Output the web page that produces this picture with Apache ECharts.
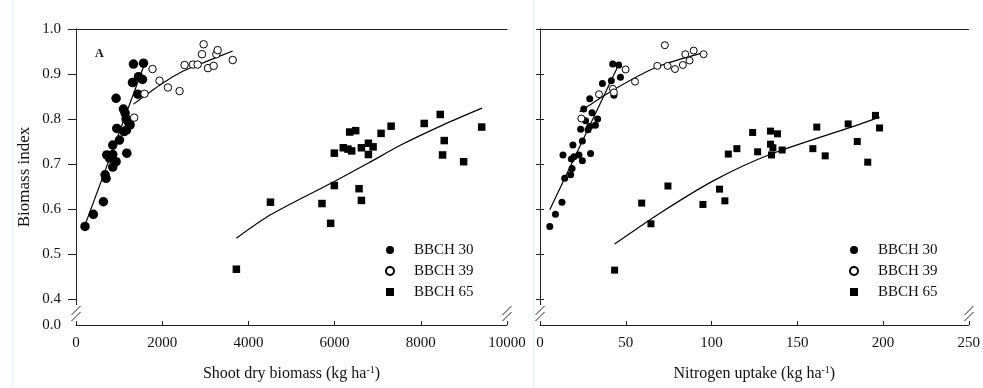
<!DOCTYPE html>
<html>
<head>
<meta charset="utf-8">
<script src="https://cdn.jsdelivr.net/npm/echarts@6/dist/echarts.min.js"></script>
<style>
html,body{margin:0;padding:0;background:#fff;}
#c{width:983px;height:388px;}
</style>
</head>
<body>
<div id="c"></div>
<script>
// ---------- data ----------
// Left panel: shoot dry biomass (kg/ha) vs biomass index
const biomass30 = [[209,0.561],[403,0.588],[636,0.616],[675,0.676],[698,0.668],[853,0.693],[930,0.705],[775,0.713],[714,0.72],[853,0.721],[1179,0.724],[853,0.742],[1008,0.753],[1116,0.772],[1170,0.775],[946,0.779],[1256,0.787],[1220,0.792],[1163,0.80],[1140,0.813],[1100,0.822],[930,0.846],[1434,0.855],[1310,0.881],[1543,0.888],[1450,0.894],[1333,0.922],[1566,0.924]];
const biomass39 = [[1349,0.803],[1589,0.856],[1775,0.911],[1938,0.885],[2133,0.870],[2403,0.862],[2519,0.920],[2714,0.921],[2822,0.921],[2923,0.944],[2961,0.966],[3063,0.913],[3194,0.918],[3256,0.944],[3287,0.953],[3636,0.931]];
const biomass65 = [[3721,0.466],[4512,0.615],[5707,0.612],[5908,0.568],[5994,0.652],[5994,0.724],[6202,0.736],[6310,0.733],[6396,0.729],[6350,0.771],[6489,0.774],[6622,0.736],[6784,0.746],[6893,0.738],[6784,0.721],[6567,0.645],[6622,0.619],[7078,0.768],[7311,0.784],[8079,0.790],[8451,0.810],[8544,0.752],[8505,0.720],[8994,0.705],[9413,0.782]];
const biomassFit30 = [[209,0.564],[1566,0.916]];
const biomassFit39 = [[1333,0.833],[2000,0.879],[2500,0.907],[3000,0.927],[3636,0.951]];
const biomassFit65 = [[3721,0.535],[4512,0.587],[5994,0.661],[6784,0.702],[7536,0.742],[8544,0.788],[9420,0.824]];

// Right panel: nitrogen uptake (kg/ha) vs biomass index
const nitrogen30 = [[5.7,0.561],[9.0,0.588],[12.8,0.615],[14.4,0.668],[17.9,0.676],[18.7,0.690],[13.4,0.720],[18.3,0.711],[19.8,0.716],[22.7,0.720],[24.7,0.707],[29.5,0.723],[19.2,0.742],[24.7,0.751],[23.7,0.777],[28.0,0.776],[29.0,0.783],[32.3,0.786],[26.6,0.796],[33.6,0.800],[30.3,0.814],[25.5,0.822],[29.0,0.845],[36.4,0.879],[41.6,0.885],[46.9,0.893],[42.4,0.922],[45.9,0.920],[43.1,0.853]];
const nitrogen39 = [[24.1,0.801],[34.4,0.855],[42.5,0.867],[43.1,0.859],[49.9,0.910],[55.4,0.883],[68.4,0.918],[72.8,0.964],[74.4,0.918],[78.7,0.911],[83.3,0.920],[84.7,0.944],[87.2,0.930],[89.6,0.952],[95.4,0.944]];
const nitrogen65 = [[43.5,0.464],[59.3,0.613],[64.7,0.567],[74.6,0.651],[95.0,0.610],[104.7,0.644],[107.8,0.618],[109.8,0.722],[114.8,0.734],[124.0,0.770],[126.9,0.727],[134.4,0.773],[138.5,0.767],[134.4,0.744],[135.8,0.736],[135.0,0.720],[141.2,0.731],[159.1,0.734],[161.4,0.782],[166.3,0.718],[179.7,0.789],[185.0,0.750],[195.6,0.808],[198.0,0.780],[191.1,0.704]];
const nitrogenFit30 = [[5.7,0.598],[45.5,0.918]];
const nitrogenFit39 = [[23.1,0.816],[42.5,0.864],[68.4,0.916],[95.0,0.947]];
const nitrogenFit65 = [[43.5,0.522],[69.7,0.590],[101.8,0.664],[134.8,0.722],[186.3,0.788],[198.0,0.804]];

const seriesNames = ['BBCH 30','BBCH 39','BBCH 65'];
const yTickValues = [0.4,0.5,0.6,0.7,0.8,0.9,1.0];
const yBottom = 0.342;            // position shown as "0.0" below the axis break
const yLabelValues = [yBottom].concat(yTickValues);
const xTitleLeft = 'Shoot dry biomass (kg ha{sup|-1})';
const xTitleRight = 'Nitrogen uptake (kg ha{sup|-1})';
const yTitle = 'Biomass index';

// ---------- styling ----------
const FONT = '"Liberation Serif","Times New Roman",serif';
const INK = '#111';
const G1 = {left:76, top:29, width:431, height:296};
const G2 = {left:540, top:29, width:429, height:296};

const nameStyle = {fontFamily:FONT, fontSize:16, color:INK,
  rich:{sup:{fontFamily:FONT, fontSize:10, color:INK, verticalAlign:'top', padding:[0,0,7,0]}}};
const lineAx = {show:true, lineStyle:{color:'#222', width:1}};

function bottomX(grid, max, interval, name){
  return {type:'value', gridIndex:grid, position:'bottom', min:0, max:max, interval:interval,
    axisLine:lineAx, splitLine:{show:false},
    axisTick:{show:true, inside:true, length:4, lineStyle:{color:'#222'}},
    axisLabel:{margin:11, fontFamily:FONT, fontSize:15, color:INK, formatter:function(v){return String(v);}},
    name:name, nameLocation:'middle', nameGap:40, nameTextStyle:nameStyle};
}
function topX(grid, max){
  return {type:'value', gridIndex:grid, position:'top', min:0, max:max,
    axisLine:lineAx, axisTick:{show:false}, axisLabel:{show:false}, splitLine:{show:false}};
}
function yAx(grid, pos, inside, labels){
  const a = {type:'value', gridIndex:grid, position:pos, min:yBottom, max:1.0,
    axisLine:lineAx, splitLine:{show:false},
    axisTick:{show:true, inside:inside, length:inside?4:8, customValues:yTickValues, lineStyle:{color:'#222'}},
    axisLabel:{show:labels, margin:15, fontFamily:FONT, fontSize:15, color:INK,
      customValues:yLabelValues,
      formatter:function(v){ return v < 0.38 ? '0.0' : v.toFixed(1); }}};
  if (labels){
    a.name = yTitle; a.nameLocation='middle'; a.nameGap=43;
    a.nameTextStyle = {fontFamily:FONT, fontSize:17, color:INK};
  }
  return a;
}

function scat(name, data, xi, yi, symbol, size, hollow){
  return {type:'scatter', name:name, xAxisIndex:xi, yAxisIndex:yi, data:data,
    symbol:symbol, symbolSize:size, z:3,
    itemStyle: hollow ? {color:'#fff', borderColor:'#000', borderWidth:1, opacity:1}
                      : {color:'#000', borderColor:'#000', borderWidth:0, opacity:1}};
}
function fit(name, data, xi, yi, smooth){
  return {type:'line', name:name, xAxisIndex:xi, yAxisIndex:yi, data:data,
    showSymbol:false, symbol:'none', smooth:smooth, z:2,
    lineStyle:{color:'#000', width:1.2}};
}

// axis-break marks ("//") at the bottom of each vertical axis
function breakMarks(x){
  return [
    {type:'rect', shape:{x:x-2.5, y:305, width:5, height:16}, style:{fill:'#fff'}, z:100},
    {type:'line', shape:{x1:x-4.5, y1:321, x2:x+4.5, y2:312}, style:{stroke:'#222', lineWidth:1}, z:101},
    {type:'line', shape:{x1:x-4.5, y1:315, x2:x+4.5, y2:306}, style:{stroke:'#222', lineWidth:1}, z:101}
  ];
}

const legendBase = {orient:'vertical', data:seriesNames, selectedMode:false,
  itemWidth:8, itemHeight:8, itemGap:5, padding:0,
  textStyle:{fontFamily:FONT, fontSize:15, color:INK, lineHeight:16, padding:[0,0,0,15]}};

const chart = echarts.init(document.getElementById('c'), null, {renderer:'canvas'});
chart.setOption({
  animation:false,
  backgroundColor:'#fff',
  title:{text:'A', left:90, top:43, textStyle:{fontFamily:FONT, fontSize:12, fontWeight:'bold', color:INK}},
  grid:[Object.assign({containLabel:false}, G1), Object.assign({containLabel:false}, G2)],
  xAxis:[bottomX(0,10000,2000,xTitleLeft), topX(0,10000), bottomX(1,250,50,xTitleRight), topX(1,250)],
  yAxis:[yAx(0,'left',false,true), yAx(0,'right',true,false), yAx(1,'left',true,false), yAx(1,'right',true,false)],
  legend:[
    Object.assign({left:385, top:242}, legendBase),
    Object.assign({left:849, top:242}, legendBase)
  ],
  series:[
    fit('fit30L', biomassFit30, 0, 0, false),
    fit('fit39L', biomassFit39, 0, 0, 0.25),
    fit('fit65L', biomassFit65, 0, 0, 0.25),
    scat('BBCH 30', biomass30, 0, 0, 'circle', 9.5, false),
    scat('BBCH 39', biomass39, 0, 0, 'circle', 7.5, true),
    scat('BBCH 65', biomass65, 0, 0, 'rect', 7.5, false),
    fit('fit30R', nitrogenFit30, 2, 2, false),
    fit('fit39R', nitrogenFit39, 2, 2, 0.25),
    fit('fit65R', nitrogenFit65, 2, 2, 0.25),
    scat('BBCH 30', nitrogen30, 2, 2, 'circle', 7, false),
    scat('BBCH 39', nitrogen39, 2, 2, 'circle', 7, true),
    scat('BBCH 65', nitrogen65, 2, 2, 'rect', 7, false)
  ],
  graphic:[
    {type:'rect', shape:{x:11, y:0, width:3, height:388}, style:{fill:'#f2f7fa'}, z:-1},
    {type:'rect', shape:{x:532, y:0, width:3, height:388}, style:{fill:'#f2f7fa'}, z:-1}
  ].concat(breakMarks(G1.left), breakMarks(G1.left+G1.width), breakMarks(G2.left), breakMarks(G2.left+G2.width))
});
</script>
</body>
</html>
